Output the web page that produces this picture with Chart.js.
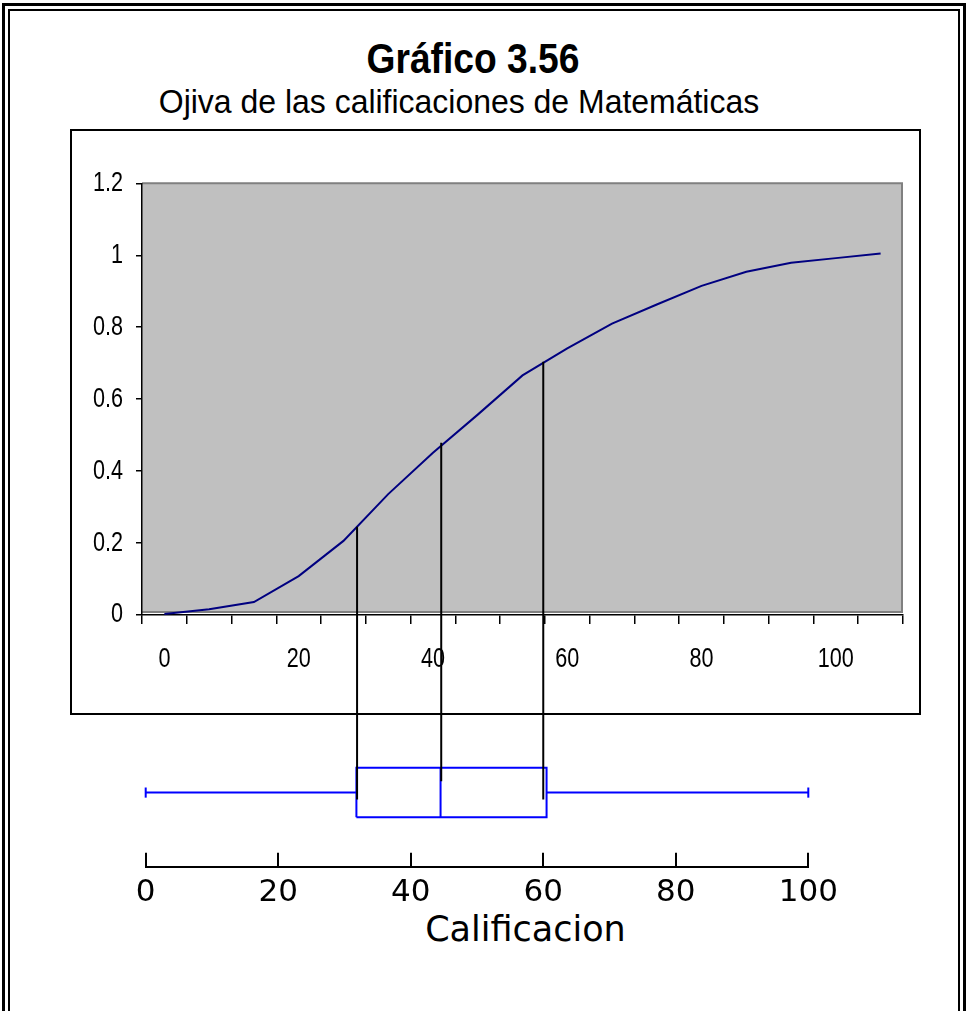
<!DOCTYPE html>
<html>
<head>
<meta charset="utf-8">
<script src="https://cdn.jsdelivr.net/npm/chart.js@4.4.0/dist/chart.umd.min.js"></script>
<style>
  html, body { margin:0; padding:0; background:#fff; width:966px; height:1011px; overflow:hidden; position:relative; }
  #frameOuter { position:absolute; left:2px; top:3px; width:964px; height:1100px; border:3px solid #000; box-sizing:border-box; }
  #frameInner { position:absolute; left:8px; top:9px; width:952px; height:1100px; border:2px solid #000; box-sizing:border-box; }
  .txt { position:absolute; white-space:nowrap; color:#000; text-align:center; line-height:normal; }
  #title { left:0; width:946px; top:34px; font-weight:bold; font-size:43px; font-family:'Liberation Sans',Arial,sans-serif; transform:scaleX(0.865); transform-origin:473px 0; }
  #subtitle { left:0; width:918px; top:82px; font-size:34px; font-family:'Liberation Sans',Arial,sans-serif; transform:scaleX(0.94); transform-origin:459px 0; }
  #xtitle { left:0; width:1051px; top:909px; font-size:35px; font-family:'DejaVu Sans',sans-serif; }
  #box1 { position:absolute; left:70px; top:129px; width:851px; height:586px; border:2px solid #000; box-sizing:border-box; background:#fff; }
  #c1 { position:absolute; left:0; top:0; }
  #c2 { position:absolute; left:0; top:0; z-index:5; pointer-events:none; }
</style>
</head>
<body>
<div id="frameOuter"></div>
<div id="frameInner"></div>
<div class="txt" id="title">Gráfico 3.56</div>
<div class="txt" id="subtitle">Ojiva de las calificaciones de Matemáticas</div>
<div id="box1"><canvas id="c1" width="847" height="582"></canvas></div>
<canvas id="c2" width="966" height="1011"></canvas>
<div class="txt" id="xtitle">Calificacion</div>

<script>
// ---------- data ----------
const categories = ['0','7','13','20','27','33','40','47','53','60','67','73','80','87','93','100','107'];
const cumFreq    = [0.003,0.016,0.036,0.108,0.206,0.336,0.451,0.557,0.666,0.741,0.81,0.863,0.915,0.954,0.979,0.992,1.005];
const ogiveXLabels = ['0','20','40','60','80','100'];
const ogiveYMin = 0, ogiveYMax = 1.2, ogiveYStep = 0.2;

const boxMin = 0, boxQ1 = 31.8, boxMedian = 44.5, boxQ3 = 60.5, boxMax = 100;
const boxXMin = 0, boxXMax = 100, boxXStep = 20;

// reference lines: grade value and the ogive level they start from
const connX   = [31.9, 44.6, 60.0];
const connTop = [0.245, 0.479, 0.704];

// ---------- style / geometry constants ----------
const SANS = "'Liberation Sans',Arial,sans-serif";
const WIDE = "'DejaVu Sans',sans-serif";
const NARROW_SCALE = 0.8;
const BOX_MID = 0.585, BOX_HALF = 0.195, CAP_HALF = 0.04;
const connBottom = [0.53, 0.675, 0.53];
const BLUE = '#0000FF';

// draws the chart's text horizontally condensed (Arial Narrow look)
const narrowText = {
  id: 'narrowText',
  beforeDraw(c) {
    const ctx = c.ctx;
    if (ctx.__narrow) return;
    const orig = ctx.fillText.bind(ctx);
    ctx.fillText = function (t, x, y, mw) {
      ctx.save();
      ctx.translate(x, y);
      ctx.scale(NARROW_SCALE, 1);
      if (mw !== undefined) orig(t, 0, 0, mw / NARROW_SCALE); else orig(t, 0, 0);
      ctx.restore();
    };
    ctx.__narrow = true;
  }
};

const plotBg = {
  id: 'plotBg',
  beforeDraw(c) {
    const {ctx, chartArea: a} = c;
    ctx.save();
    ctx.fillStyle = '#C0C0C0';
    ctx.fillRect(a.left, a.top, a.width, a.height - 3);
    ctx.strokeStyle = '#808080';
    ctx.lineWidth = 2;
    ctx.beginPath();
    ctx.moveTo(a.left, a.top);
    ctx.lineTo(a.right - 1, a.top);
    ctx.lineTo(a.right - 1, a.bottom - 3);
    ctx.lineTo(a.left, a.bottom - 3);
    ctx.stroke();
    ctx.restore();
  }
};

const chart1 = new Chart(document.getElementById('c1'), {
  type: 'line',
  data: {
    labels: categories,
    datasets: [{
      data: cumFreq,
      borderColor: '#000080',
      borderWidth: 2,
      pointRadius: 0,
      tension: 0,
      fill: false
    }]
  },
  options: {
    responsive: false,
    animation: false,
    events: [],
    layout: { padding: { left: 0, right: 16, top: 52.3, bottom: 0 } },
    plugins: { legend: { display: false }, tooltip: { enabled: false }, title: { display: false } },
    scales: {
      x: {
        type: 'category',
        offset: true,
        grid: { offset: true, drawOnChartArea: false, drawTicks: true, tickLength: 9, color: '#000', lineWidth: 1.5 },
        border: { color: '#000', width: 1.5 },
        ticks: {
          autoSkip: false, maxRotation: 0, minRotation: 0, padding: 19, color: '#000',
          font: { family: SANS, size: 27 },
          callback: (v, i) => ogiveXLabels.includes(categories[i]) ? categories[i] : ''
        },
        afterFit(s) { s.height = 98; }
      },
      y: {
        min: ogiveYMin, max: ogiveYMax,
        ticks: {
          stepSize: ogiveYStep, padding: 13, color: '#000', font: { family: SANS, size: 27 },
          callback: (v) => String(parseFloat(Number(v).toFixed(1)))
        },
        grid: { drawOnChartArea: false, drawTicks: true, tickLength: 6, color: '#000', lineWidth: 1.5 },
        border: { color: '#000', width: 1.5 },
        afterFit(s) { s.width = 70; }
      }
    }
  },
  plugins: [narrowText, plotBg]
});

const connectors = {
  id: 'connectors',
  afterDatasetsDraw(c) {
    const {ctx} = c;
    const r1 = chart1.canvas.getBoundingClientRect();
    const r2 = c.canvas.getBoundingClientRect();
    ctx.save();
    ctx.strokeStyle = '#000';
    ctx.lineWidth = 2;
    for (let i = 0; i < connX.length; i++) {
      const x = c.scales.x.getPixelForValue(connX[i]);
      const yTop = chart1.scales.y.getPixelForValue(connTop[i]) + (r1.top - r2.top);
      const yBot = c.scales.y.getPixelForValue(connBottom[i]);
      ctx.beginPath();
      ctx.moveTo(x, yTop);
      ctx.lineTo(x, yBot);
      ctx.stroke();
    }
    ctx.restore();
  }
};

const lo = BOX_MID - BOX_HALF, hi = BOX_MID + BOX_HALF;
const seg = (pts) => ({
  data: pts, showLine: true, borderColor: BLUE, borderWidth: 2, pointRadius: 0, fill: false, clip: false, tension: 0
});

const chart2 = new Chart(document.getElementById('c2'), {
  type: 'scatter',
  data: {
    datasets: [
      seg([{x: boxQ1, y: lo}, {x: boxQ3, y: lo}, {x: boxQ3, y: hi}, {x: boxQ1, y: hi}, {x: boxQ1, y: lo}]),
      seg([{x: boxMedian, y: lo}, {x: boxMedian, y: hi}]),
      seg([{x: boxMin, y: BOX_MID}, {x: boxQ1, y: BOX_MID}]),
      seg([{x: boxQ3, y: BOX_MID}, {x: boxMax, y: BOX_MID}]),
      seg([{x: boxMin, y: BOX_MID - CAP_HALF}, {x: boxMin, y: BOX_MID + CAP_HALF}]),
      seg([{x: boxMax, y: BOX_MID - CAP_HALF}, {x: boxMax, y: BOX_MID + CAP_HALF}])
    ]
  },
  options: {
    responsive: false,
    animation: false,
    events: [],
    layout: { padding: { left: 145.7, right: 157.7, top: 740, bottom: 0 } },
    plugins: { legend: { display: false }, tooltip: { enabled: false } },
    scales: {
      x: {
        type: 'linear', min: boxXMin, max: boxXMax,
        ticks: { stepSize: boxXStep, padding: 22, color: '#000', font: { family: WIDE, size: 31 } },
        grid: { drawOnChartArea: false, drawTicks: true, tickLength: -14, color: '#000', lineWidth: 2 },
        border: { color: '#000', width: 2 },
        afterFit(s) { s.height = 1011 - 866.7; }
      },
      y: { type: 'linear', display: false, min: 0, max: 1 }
    }
  },
  plugins: [connectors]
});
</script>
</body>
</html>
